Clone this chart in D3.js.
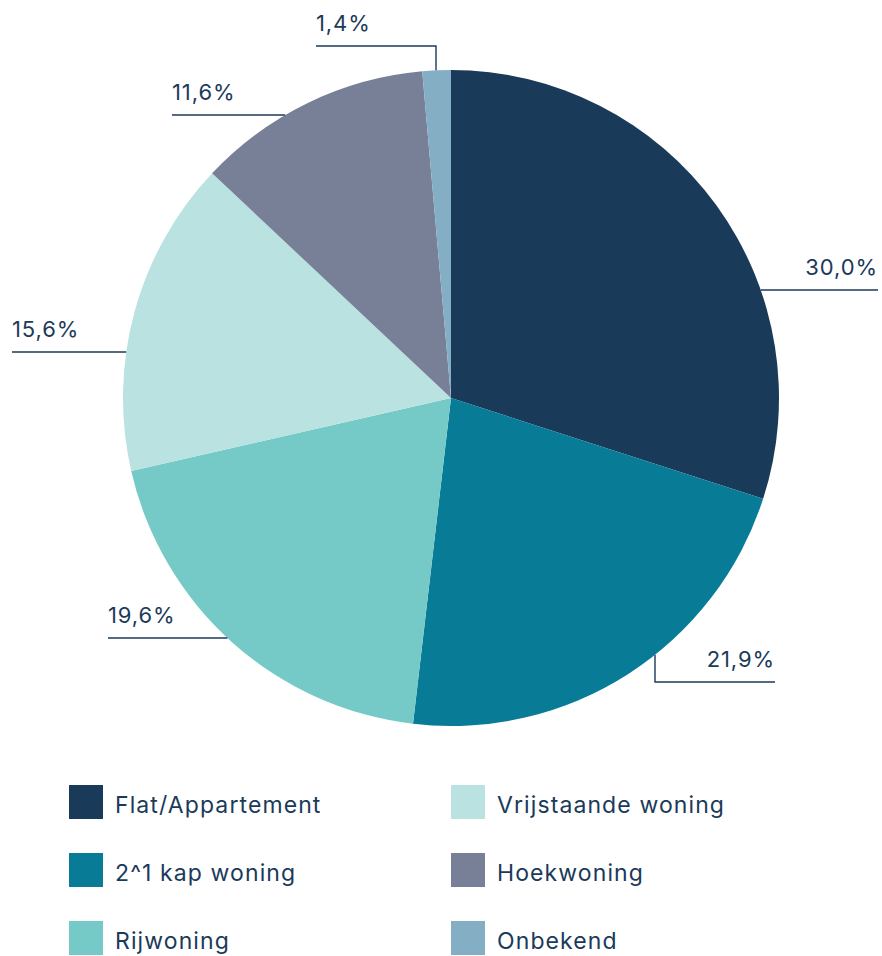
<!DOCTYPE html>
<html><head><meta charset="utf-8">
<script src="https://cdn.jsdelivr.net/npm/d3@7"></script>
<style>
html,body{margin:0;padding:0;background:#fff;}
text{font-family:"Inter","Noto Sans",sans-serif;letter-spacing:0.9px;}
text.leg{letter-spacing:1.1px;}
</style></head>
<body>
<svg id="c" width="882" height="956"></svg>
<script>
const categories = ["Flat/Appartement","2^1 kap woning","Rijwoning","Vrijstaande woning","Hoekwoning","Onbekend"];
const values = [30.0, 21.9, 19.6, 15.6, 11.6, 1.4];
const labels = ["30,0%","21,9%","19,6%","15,6%","11,6%","1,4%"];
const colors = ["#1a3a59","#087b97","#75cac7","#bae2e1","#778097","#84aec4"];

const svg = d3.select("#c");
const cx = 451, cy = 398, R = 328;
const ink = "#1b3a5a";

const pie = d3.pie().sort(null).value(d => d)(values);
const arc = d3.arc().innerRadius(0).outerRadius(R);
const g = svg.append("g").attr("transform", `translate(${cx},${cy})`);
g.selectAll("path").data(pie).join("path").attr("d", arc).attr("fill", (d,i) => colors[i]);

const leaders = [
  {type:"h", side:"r", y:290, end:878, tx:878, anchor:"end"},
  {type:"v", x:655, y:682, end:775, tx:775, anchor:"end"},
  {type:"h", side:"l", y:638, end:108, tx:108, anchor:"start"},
  {type:"h", side:"l", y:352, end:12, tx:12, anchor:"start"},
  {type:"h", side:"l", y:115, end:172, tx:172, anchor:"start"},
  {type:"v2", x:436, y:46, end:316, tx:316, anchor:"start"}
];
const edgeX = (y, side) => { const dy = y - cy; const dx = Math.sqrt(R*R - dy*dy); return side === "r" ? cx + dx : cx - dx; };
const edgeY = (x, side) => { const dx = x - cx; const dy = Math.sqrt(R*R - dx*dx); return side === "b" ? cy + dy : cy - dy; };

const lg = svg.append("g").attr("fill","none").attr("stroke", ink).attr("stroke-width", 1.4);
leaders.forEach((L, i) => {
  let pts;
  if (L.type === "h") pts = [[edgeX(L.y, L.side), L.y], [L.end, L.y]];
  else if (L.type === "v") pts = [[L.x, edgeY(L.x, "b")], [L.x, L.y], [L.end, L.y]];
  else pts = [[L.x, edgeY(L.x, "t")], [L.x, L.y], [L.end, L.y]];
  lg.append("path").attr("d", d3.line()(pts));
  svg.append("text").attr("x", L.tx).attr("y", L.y - 15).attr("text-anchor", L.anchor)
    .attr("fill", ink).attr("font-size", 22).text(labels[i]);
});

const legCols = [69, 451], legRows = [785, 853, 921], sq = 34;
const order = [0,3,1,4,2,5];
order.forEach((ci, k) => {
  const col = k % 2, row = Math.floor(k / 2);
  const x = legCols[col], y = legRows[row];
  svg.append("rect").attr("x", x).attr("y", y).attr("width", sq).attr("height", sq).attr("fill", colors[ci]);
  svg.append("text").attr("class","leg").attr("x", x + 46).attr("y", y + 28).attr("fill", ink).attr("font-size", 23).text(categories[ci]);
});
</script>
</body></html>
